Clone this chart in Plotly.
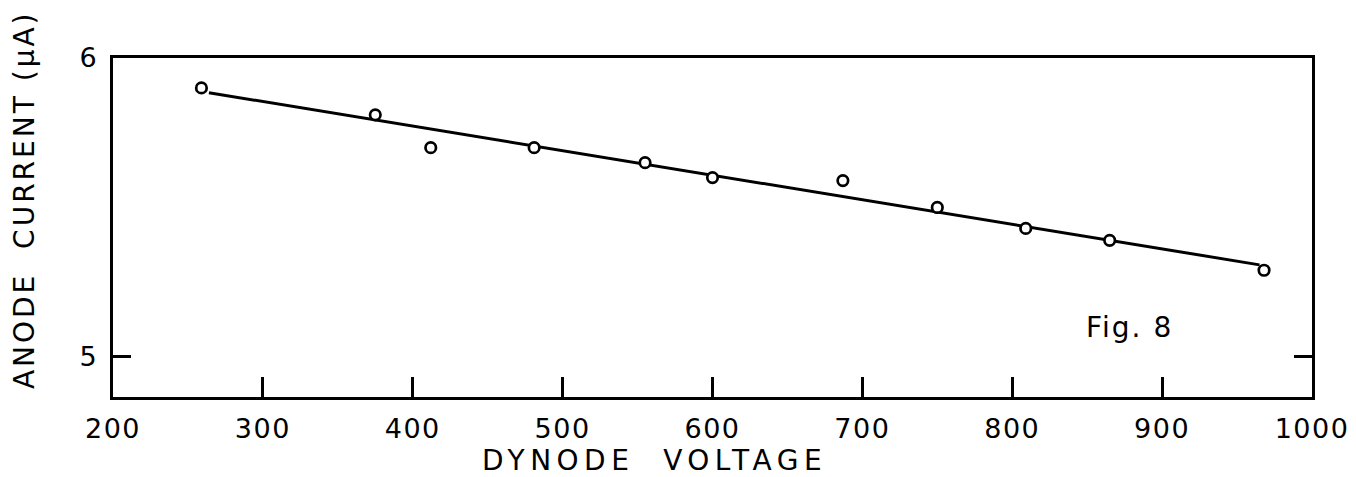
import plotly.graph_objects as go

# Measured data points (dynode voltage, anode current in µA)
voltage = [259, 375, 412, 481, 555, 600, 687, 750, 809, 865, 968]
current = [5.90, 5.81, 5.70, 5.70, 5.65, 5.60, 5.59, 5.50, 5.43, 5.39, 5.29]

# Hand-drawn fitted line endpoints
fit_voltage = [264, 965]
fit_current = [5.884, 5.308]

x_ticks = [200, 300, 400, 500, 600, 700, 800, 900, 1000]
y_ticks = [5, 6]

FONT = "DejaVu Sans"


def spaced(t, px):
    return f'<span style="letter-spacing:{px}px">{t}</span>'


fig = go.Figure()
fig.add_trace(go.Scatter(
    x=fit_voltage, y=fit_current, mode="lines",
    line=dict(color="black", width=3), hoverinfo="skip", showlegend=False))
fig.add_trace(go.Scatter(
    x=voltage, y=current, mode="markers",
    marker=dict(symbol="circle", size=10.5, color="white",
                line=dict(color="black", width=2.7)),
    showlegend=False))

fig.update_layout(
    width=1356, height=477,
    margin=dict(l=113, r=44, t=58, b=80, autoexpand=False),
    paper_bgcolor="white", plot_bgcolor="white",
    font=dict(family=FONT, color="black", size=27),
    xaxis=dict(range=[200, 1000], tickvals=x_ticks, automargin=False,
               ticktext=[spaced(str(v), 1.5) for v in x_ticks],
               tickfont=dict(family=FONT, size=27, color="black"),
               showline=True, linecolor="black", linewidth=3, mirror=True,
               ticks="inside", ticklen=20, tickwidth=2.5, tickcolor="black",
               showgrid=False, zeroline=False, ticklabelstandoff=6),
    yaxis=dict(range=[4.866, 6.0], tickvals=y_ticks, automargin=False,
               ticktext=[str(v) for v in y_ticks],
               tickfont=dict(family=FONT, size=27, color="black"),
               showline=True, linecolor="black", linewidth=3, mirror="ticks",
               ticks="inside", ticklen=18, tickwidth=2.5, tickcolor="black",
               showgrid=False, zeroline=False, ticklabelstandoff=8),
    annotations=[
        dict(text=spaced("DYNODE&nbsp; VOLTAGE", 5.5),
             xref="paper", yref="paper", x=0.452, y=-0.186,
             xanchor="center", yanchor="middle", showarrow=False,
             font=dict(family=FONT, size=28, color="black")),
        dict(text=spaced("ANODE&nbsp; CURRENT (μA)", 3),
             xref="paper", yref="paper", x=-0.0742, y=0.581, textangle=-90,
             xanchor="center", yanchor="middle", showarrow=False,
             font=dict(family=FONT, size=28, color="black")),
        dict(text=spaced("Fig. 8", 2),
             xref="paper", yref="paper", x=0.848, y=0.204,
             xanchor="center", yanchor="middle", showarrow=False,
             font=dict(family=FONT, size=28, color="black")),
    ],
)

fig.write_html("out.html")
